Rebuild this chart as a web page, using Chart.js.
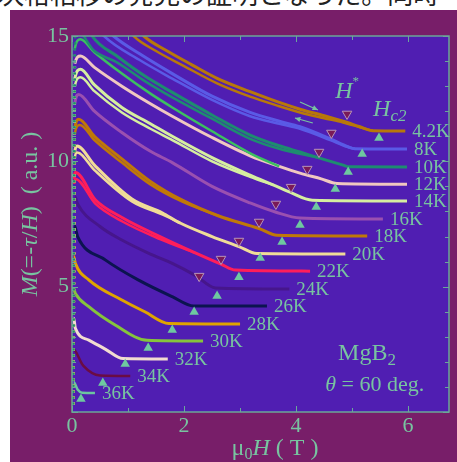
<!DOCTYPE html>
<html lang="ja">
<head>
<meta charset="UTF-8">
<title>MgB2 M-H</title>
<script src="https://cdn.jsdelivr.net/npm/chart.js"></script>
<style>
  html, body { margin: 0; padding: 0; background: #fff; }
  #wrap { position: relative; width: 457px; height: 462px; overflow: hidden; }
  #caption { position: absolute; z-index: 0; left: -2px; top: -19px; height: 24px; line-height: 24px; font-size: 26px; font-family: "Noto Sans CJK JP"; white-space: nowrap; color: #222; }
  #panel { position: absolute; z-index: 1; left: 10px; top: 10px; width: 447px; height: 452px; background: #781e69; }
  canvas { position: absolute; z-index: 2; left: 0; top: 0; }
</style>
</head>
<body>
<div id="wrap">
  <div id="caption">次格相移の発見の証明となった。同時</div>
  <div id="panel"></div>
  <canvas id="chart" width="457" height="462"></canvas>
</div>

<script>
    const temps = ['4.2K', '8K', '10K', '12K', '14K', '16K', '18K', '20K', '22K', '24K', '26K', '28K', '30K', '32K', '34K', '36K'];

    // field (T) / magnetization (a.u.), first point = start of the rise at H ~ 0
    const H_4_2K = [0.03, 0.6, 1.28, 1.7, 2.14, 2.6, 3.18, 3.7, 4.07, 4.5, 4.84, 5.14, 5.37, 5.95];
    const M_4_2K = [19, 16.7, 15.0, 14.4, 13.85, 13.3, 12.78, 12.35, 12.08, 11.82, 11.6, 11.38, 11.22, 11.21];
    const H_8K = [0.03, 0.3, 0.74, 1.2, 1.79, 2.5, 3.18, 3.7, 4.07, 4.61, 4.91, 5.05, 5.98];
    const M_8K = [18, 16.0, 15.0, 14.3, 13.5, 12.6, 11.95, 11.6, 11.38, 10.9, 10.6, 10.5, 10.49];
    const H_10K = [0.03, 0.15, 0.36, 0.8, 1.3, 1.79, 2.5, 3.18, 3.7, 4.07, 4.39, 4.84, 4.95, 5.98];
    const M_10K = [17, 16.0, 15.0, 14.2, 13.4, 12.75, 11.85, 11.05, 10.62, 10.37, 10.15, 9.85, 9.78, 9.77];
    const H_12K = [0.02, 0.05, 0.15, 0.4, 0.89, 1.4, 1.79, 2.5, 3.2, 3.7, 4.07, 4.45, 4.73, 5.98];
    const M_12K = [0.3, 13.9, 14.2, 13.75, 13.0, 12.3, 11.8, 10.95, 10.2, 9.8, 9.53, 9.3, 9.12, 9.09];
    const H_14K = [0.02, 0.05, 0.15, 0.4, 0.89, 1.4, 1.79, 2.5, 3.18, 3.6, 3.89, 4.29, 5.98];
    const M_14K = [0.3, 13.3, 13.67, 13.05, 12.15, 11.5, 11.0, 10.15, 9.45, 9.05, 8.77, 8.45, 8.42];
    const H_16K = [0.02, 0.05, 0.12, 0.4, 0.89, 1.4, 1.79, 2.5, 3.18, 3.63, 4.07, 5.55];
    const M_16K = [0.3, 12.3, 12.67, 12.0, 11.15, 10.4, 9.95, 9.0, 8.34, 7.98, 7.74, 7.70];
    const H_18K = [0.02, 0.05, 0.12, 0.4, 0.89, 1.4, 1.96, 2.62, 3.34, 3.66, 5.27];
    const M_18K = [0.3, 11.3, 11.68, 11.0, 10.1, 9.2, 8.46, 7.82, 7.32, 7.05, 7.02];
    const H_20K = [0.02, 0.05, 0.09, 0.4, 1.07, 1.61, 1.93, 2.5, 2.98, 3.3, 4.88];
    const M_20K = [0.3, 10.4, 10.61, 9.85, 8.5, 7.95, 7.54, 7.0, 6.6, 6.32, 6.30];
    const H_22K = [0.02, 0.04, 0.06, 0.42, 0.9, 1.57, 2.2, 2.66, 2.92, 4.25];
    const M_22K = [0.3, 9.3, 9.55, 8.46, 7.75, 7.0, 6.35, 5.9, 5.66, 5.62];
    const H_24K = [0.02, 0.05, 0.1, 0.5, 0.89, 1.4, 1.79, 2.2, 2.56, 3.88];
    const M_24K = [0.3, 8.6, 8.3, 7.4, 6.86, 6.3, 5.93, 5.45, 4.95, 4.91];
    const H_26K = [0.02, 0.04, 0.1, 0.6, 1.19, 1.79, 2.17, 3.48];
    const M_26K = [0.3, 7.45, 7.0, 6.06, 5.26, 4.6, 4.23, 4.23];
    const H_28K = [0.02, 0.03, 0.06, 0.3, 0.89, 1.3, 1.73, 3.0];
    const M_28K = [0.3, 6.2, 5.93, 5.27, 4.47, 4.0, 3.53, 3.51];
    const H_30K = [0.02, 0.03, 0.06, 0.3, 0.77, 1.34, 2.34];
    const M_30K = [0.3, 4.9, 4.73, 4.2, 3.47, 2.86, 2.83];
    const H_32K = [0.02, 0.03, 0.06, 0.3, 0.6, 0.91, 1.71];
    const M_32K = [0.3, 3.75, 3.34, 2.87, 2.5, 2.13, 2.11];
    const H_34K = [0.01, 0.02, 0.2, 0.5, 1.04];
    const M_34K = [0.3, 2.5, 1.85, 1.46, 1.44];
    const H_36K = [0.01, 0.03, 0.1, 0.18, 0.41];
    const M_36K = [0.3, 1.2, 0.9, 0.77, 0.76];

    // second branch of the loop; its last point lies on the first branch
    const H_4_2K_b = [0.03, 0.5, 1.1, 1.5, 2.0, 2.6, 3.18, 3.7, 4.07, 4.5, 4.84, 5.14, 5.37];
    const M_4_2K_b = [19, 16.7, 15.0, 14.4, 13.8, 13.1, 12.58, 12.2, 11.95, 11.72, 11.55, 11.36, 11.22];
    const H_8K_b = [0.03, 0.2, 0.57, 1.2, 1.79, 2.5, 3.18, 3.7, 4.07, 4.61, 4.91, 5.05];
    const M_8K_b = [18, 16.0, 15.0, 14.05, 13.3, 12.45, 11.8, 11.5, 11.3, 10.85, 10.58, 10.5];
    const H_10K_b = [0.02, 0.06, 0.4, 0.8, 1.3, 1.79, 2.5, 3.18, 3.7, 4.07, 4.39];
    const M_10K_b = [0.3, 15.3, 14.4, 13.95, 13.2, 12.55, 11.7, 10.9, 10.5, 10.3, 10.15];
    const H_12K_b = [0.02, 0.05, 0.15, 0.4, 0.89, 1.4, 1.79, 2.5, 3.2, 3.7];
    const M_12K_b = [0.3, 14.5, 14.87, 14.35, 13.5, 12.7, 12.15, 11.2, 10.3, 9.8];
    const H_14K_b = [0.02, 0.05, 0.15, 0.4, 0.89, 1.4, 1.79, 2.5, 3.18, 3.6];
    const M_14K_b = [0.3, 13.0, 13.35, 12.8, 11.95, 11.3, 10.85, 10.0, 9.38, 9.05];
    const H_18K_b = [0.02, 0.05, 0.14, 0.4, 0.89, 1.4, 1.96, 2.62];
    const M_18K_b = [0.3, 11.1, 11.45, 10.85, 9.95, 9.08, 8.4, 7.82];
    const H_20K_b = [0.02, 0.05, 0.09, 0.4, 1.07, 1.61, 1.93];
    const M_20K_b = [0.3, 10.15, 10.35, 9.65, 8.4, 7.88, 7.54];
    const H_22K_b = [0.02, 0.04, 0.06, 0.42, 0.9, 1.57, 2.2];
    const M_22K_b = [0.3, 9.1, 9.3, 8.3, 7.6, 6.9, 6.35];

    // upper critical field (up triangles) and onset field H* (down triangles)
    const Hc2 = [5.48, 5.18, 4.93, 4.70, 4.36, 4.07, 3.75, 3.36, 2.98, 2.59, 2.18, 1.79, 1.36, 0.95, 0.55, 0.16];
    const Hc2_M = [10.93, 10.29, 9.57, 8.9, 8.18, 7.46, 6.78, 6.14, 5.38, 4.63, 3.99, 3.27, 2.55, 1.91, 1.16, 0.52];
    const Hstar = [4.91, 4.63, 4.41, 4.20, 3.91, 3.64, 3.34, 2.98, 2.66, 2.27];
    const Hstar_M = [11.89, 11.13, 10.37, 9.69, 8.97, 8.3, 7.58, 6.82, 6.1, 5.42];

    const xTicks = [0, 1, 2, 3, 4, 5, 6];
    const xLabels = [0, 2, 4, 6];
    const yTicks = [0, 1, 2, 3, 4, 5, 6, 7, 8, 9, 10, 11, 12, 13, 14, 15];
    const yLabels = [5, 10, 15];

    const mainCurves = [
        [H_4_2K, M_4_2K], [H_8K, M_8K], [H_10K, M_10K], [H_12K, M_12K], [H_14K, M_14K], [H_16K, M_16K],
        [H_18K, M_18K], [H_20K, M_20K], [H_22K, M_22K], [H_24K, M_24K], [H_26K, M_26K], [H_28K, M_28K],
        [H_30K, M_30K], [H_32K, M_32K], [H_34K, M_34K], [H_36K, M_36K]
    ];
    // [H, M, index into temps]
    const loopBranches = [
        [H_4_2K_b, M_4_2K_b, 0], [H_8K_b, M_8K_b, 1], [H_10K_b, M_10K_b, 2], [H_12K_b, M_12K_b, 3],
        [H_14K_b, M_14K_b, 4], [H_18K_b, M_18K_b, 6], [H_20K_b, M_20K_b, 7], [H_22K_b, M_22K_b, 8]
    ];

    const lineColors = ['#b8780a', '#5a5ae6', '#1e8c70', '#f0c8c0', '#d6eea0', '#9a50b0', '#c07808', '#f0dc98',
        '#ff1e5a', '#46168c', '#0c1450', '#e0a400', '#86c43c', '#f2dcd0', '#6a0c44', '#6cc4a0'];
    const branchColors = { 3: '#3cc060' };

    const textColor = '#78c4a0';
    const serif = '"Liberation Serif", "DejaVu Serif", serif';

    function pts(H, M) {
        return H.map((h, i) => ({ x: h, y: M[i] }));
    }

    function curve(H, M, color, width) {
        return {
            type: 'line',
            data: pts(H, M),
            borderColor: color,
            borderWidth: width,
            pointRadius: 0,
            cubicInterpolationMode: 'monotone',
            clip: 0,
            segment: {
                // the rise at H ~ 0 is only a scatter of points
                borderDash: c => c.p0DataIndex === 0 ? [2, 4] : []
            }
        };
    }

    const datasets = [];
    datasets.push({
        type: 'line', showLine: false, data: pts(Hc2, Hc2_M),
        pointStyle: 'triangle', pointRadius: 5.5, pointBackgroundColor: '#6ec8a0', pointBorderColor: '#6ec8a0', pointBorderWidth: 0
    });
    datasets.push({
        type: 'line', showLine: false, data: pts(Hstar, Hstar_M),
        pointStyle: 'triangle', rotation: 180, pointRadius: 5.5, pointBackgroundColor: '#7a1a58', pointBorderColor: '#b894b8', pointBorderWidth: 1
    });
    loopBranches.forEach(b => datasets.push(curve(b[0], b[1], branchColors[b[2]] || lineColors[b[2]], 2.5)));
    mainCurves.forEach((c, i) => datasets.push(curve(c[0], c[1], lineColors[i], i >= 14 ? 2.5 : 3)));

    function drawRuns(ctx, x, y, parts, align) {
        let w = 0;
        parts.forEach(p => { ctx.font = p.font; p.w = ctx.measureText(p.t).width; w += p.w; });
        let cx = align === 'center' ? x - w / 2 : x;
        parts.forEach(p => {
            ctx.font = p.font;
            ctx.fillText(p.t, cx, y + (p.dy || 0));
            cx += p.w;
        });
    }

    function arrow(ctx, x1, y1, x2, y2) {
        const a = Math.atan2(y2 - y1, x2 - x1);
        ctx.beginPath();
        ctx.moveTo(x1, y1);
        ctx.lineTo(x2, y2);
        ctx.stroke();
        ctx.beginPath();
        ctx.moveTo(x2, y2);
        ctx.lineTo(x2 - 6 * Math.cos(a - 0.45), y2 - 6 * Math.sin(a - 0.45));
        ctx.lineTo(x2 - 6 * Math.cos(a + 0.45), y2 - 6 * Math.sin(a + 0.45));
        ctx.closePath();
        ctx.fill();
    }

    const plotBg = {
        id: 'plotBg',
        beforeDraw(chart) {
            const { ctx, chartArea: a } = chart;
            ctx.save();
            ctx.fillStyle = '#501eb2';
            ctx.fillRect(a.left, a.top, a.right - a.left, a.bottom - a.top);
            ctx.restore();
        }
    };

    // frame with inward ticks on all four sides
    const frame = {
        id: 'frame',
        afterDatasetsDraw(chart) {
            const { ctx, chartArea: a, scales } = chart;
            ctx.save();
            ctx.strokeStyle = '#6aa898';
            ctx.lineWidth = 1.5;
            ctx.strokeRect(a.left, a.top, a.right - a.left, a.bottom - a.top);
            ctx.lineWidth = 1;
            ctx.beginPath();
            xTicks.forEach(v => {
                const px = Math.round(scales.x.getPixelForValue(v)) + 0.5;
                const len = xLabels.includes(v) ? 6 : 4;
                ctx.moveTo(px, a.bottom); ctx.lineTo(px, a.bottom - len);
                ctx.moveTo(px, a.top); ctx.lineTo(px, a.top + len);
            });
            yTicks.forEach(v => {
                const py = Math.round(scales.y.getPixelForValue(v)) + 0.5;
                const len = v % 5 === 0 ? 6 : 4;
                ctx.moveTo(a.left, py); ctx.lineTo(a.left + len, py);
                ctx.moveTo(a.right, py); ctx.lineTo(a.right - len, py);
            });
            ctx.stroke();
            ctx.restore();
        }
    };

    const notes = {
        id: 'notes',
        afterDraw(chart) {
            const { ctx, scales } = chart;
            const X = v => scales.x.getPixelForValue(v);
            const Y = v => scales.y.getPixelForValue(v);
            ctx.save();
            ctx.fillStyle = textColor;
            ctx.strokeStyle = textColor;
            ctx.textBaseline = 'middle';
            ctx.textAlign = 'left';

            // temperature at the end of each curve
            mainCurves.forEach((c, i) => {
                const n = c[0].length - 1;
                ctx.font = '19px ' + serif;
                ctx.fillText(temps[i], X(c[0][n]) + 7, Y(c[1][n]) + 1);
            });

            const f = (s, it) => (it ? 'italic ' : '') + s + 'px ' + serif;
            drawRuns(ctx, X(4.7), Y(12.76), [{ t: 'H', font: f(24, true) }, { t: '*', font: f(13), dy: -11 }]);
            drawRuns(ctx, X(5.375), Y(12.05), [{ t: 'H', font: f(24, true) }, { t: 'c2', font: f(17, true), dy: 7 }]);

            ctx.lineWidth = 1.2;
            arrow(ctx, X(4.07), Y(12.37), X(4.39), Y(12.05));
            arrow(ctx, X(4.30), Y(11.53), X(3.98), Y(11.73));

            drawRuns(ctx, X(4.75), Y(2.31), [{ t: 'MgB', font: f(24) }, { t: '2', font: f(17), dy: 6 }]);
            drawRuns(ctx, X(4.52), Y(1.08), [{ t: 'θ', font: f(22, true) }, { t: ' = 60 deg.', font: f(22) }]);

            // axis titles
            drawRuns(ctx, 275, 449,
                [{ t: 'μ', font: f(24) }, { t: '0', font: f(16), dy: 6 }, { t: 'H', font: f(24, true) }, { t: ' ( T )', font: f(24) }], 'center');
            ctx.translate(31, 214);
            ctx.rotate(-Math.PI / 2);
            drawRuns(ctx, 0, 0, [
                { t: 'M', font: f(24, true) }, { t: '(=-', font: f(24) }, { t: 'τ', font: f(24, true) },
                { t: '/', font: f(24) }, { t: 'H', font: f(24, true) }, { t: ')  ( a.u. )', font: f(24) }
            ], 'center');
            ctx.restore();
        }
    };

    new Chart(document.getElementById('chart'), {
        type: 'line',
        data: { datasets: datasets },
        options: {
            responsive: false,
            animation: false,
            events: [],
            layout: { padding: { left: 0, top: 36, right: 8, bottom: 0 } },
            plugins: { legend: { display: false }, tooltip: { enabled: false } },
            scales: {
                x: {
                    type: 'linear', min: 0, max: 6.73,
                    grid: { display: false, drawTicks: false },
                    border: { display: false },
                    afterFit: s => { s.height = 50; },
                    afterBuildTicks: s => { s.ticks = xTicks.map(v => ({ value: v })); },
                    ticks: {
                        padding: 1, color: textColor, maxRotation: 0, autoSkip: false,
                        font: { family: serif, size: 22 },
                        callback: v => xLabels.includes(v) ? v : ''
                    }
                },
                y: {
                    type: 'linear', min: 0, max: 15,
                    grid: { display: false, drawTicks: false },
                    border: { display: false },
                    afterFit: s => { s.width = 72; },
                    afterBuildTicks: s => { s.ticks = yTicks.map(v => ({ value: v })); },
                    ticks: {
                        padding: 3, color: textColor, autoSkip: false,
                        font: { family: serif, size: 22 },
                        callback: v => yLabels.includes(v) ? v : ''
                    }
                }
            }
        },
        plugins: [plotBg, frame, notes]
    });
</script>
</body>
</html>
